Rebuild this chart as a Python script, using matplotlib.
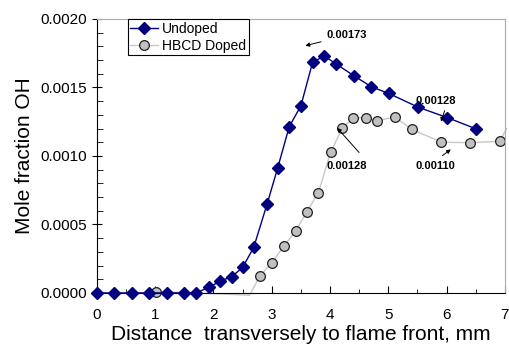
import numpy as np
import matplotlib.pyplot as plt
from matplotlib.ticker import MultipleLocator

plt.rcParams['font.family'] = ['Liberation Sans', 'DejaVu Sans']

# Undoped flame
x_undoped = [0.0, 0.3, 0.6, 0.9, 1.2, 1.5, 1.7, 1.92, 2.12, 2.31, 2.5, 2.69, 2.92,
             3.1, 3.3, 3.5, 3.7, 3.9, 4.1, 4.41, 4.71, 5.01, 5.51, 6.01, 6.51]
y_undoped = [0.0, 0.0, 0.0, 0.0, 0.0, 0.0, 0.0, 0.00004, 0.000088, 0.000117, 0.000186,
             0.000332, 0.000649, 0.00091, 0.001214, 0.001366, 0.001683, 0.00173,
             0.001673, 0.001585, 0.001505, 0.001456, 0.001356, 0.00128, 0.001197]

# HBCD doped flame (some points drawn as line only)
x_doped = [1.01, 2.0, 2.62, 2.8, 3.0, 3.21, 3.41, 3.6, 3.8, 4.01, 4.21, 4.4, 4.61,
           4.8, 5.11, 5.4, 5.91, 6.4, 6.91, 7.03]
y_doped = [0.00001, -0.000005, -0.000017, 0.000127, 0.000219, 0.000344, 0.000451,
           0.00059, 0.000732, 0.001027, 0.001203, 0.001278, 0.00128, 0.001256,
           0.001285, 0.001195, 0.0011, 0.001097, 0.001107, 0.0012]
doped_marked = [0] + list(range(3, 19))

fig = plt.figure(figsize=(5.1, 3.45), dpi=100)
ax = fig.add_axes([0.19, 0.151, 0.8, 0.794])

ax.plot(x_doped, y_doped, color='#c8c8c8', lw=1, marker='o', markersize=7,
        markerfacecolor='#c0c0c0', markeredgecolor='#202020', markeredgewidth=0.9,
        markevery=doped_marked, label='HBCD Doped', zorder=2, clip_on=False)
ax.plot(x_undoped, y_undoped, color='#000080', lw=1, marker='D', markersize=6,
        markerfacecolor='#000080', markeredgecolor='#000080', label='Undoped', zorder=3,
        clip_on=False)

ax.set_xlim(0, 7)
ax.set_ylim(0, 0.002)
ax.xaxis.set_major_locator(MultipleLocator(1))
ax.xaxis.set_minor_locator(MultipleLocator(0.5))
ax.yaxis.set_major_locator(MultipleLocator(0.0005))
ax.yaxis.set_minor_locator(MultipleLocator(0.0001))
ax.yaxis.set_major_formatter(plt.FormatStrFormatter('%.4f'))
ax.tick_params(axis='x', which='major', direction='in', length=5, labelsize=11, pad=11)
ax.tick_params(axis='x', which='minor', direction='in', length=3)
ax.tick_params(axis='y', which='major', direction='inout', length=7, labelsize=11)
ax.tick_params(axis='y', which='minor', direction='in', length=4)
for s in ['top', 'right']:
    ax.spines[s].set_color('#aaaaaa')

ax.set_xlabel('Distance  transversely to flame front, mm', fontsize=15, labelpad=2)
ax.set_ylabel('Mole fraction OH', fontsize=15, labelpad=5)

h, l = ax.get_legend_handles_labels()
leg = ax.legend(h[::-1], l[::-1], loc='upper left', bbox_to_anchor=(0.075, 1.0),
                fontsize=10, fancybox=False, edgecolor='black', framealpha=1,
                borderaxespad=0, handlelength=2, handletextpad=0.3,
                borderpad=0.2, labelspacing=0.2)
leg.get_frame().set_linewidth(0.8)

arrow = dict(arrowstyle='-|>', color='black', lw=0.7, mutation_scale=6)
tkw = dict(fontsize=8, fontweight='bold', va='center')
ax.annotate('0.00173', xy=(3.53, 0.0018), xytext=(3.94, 0.00188), arrowprops=arrow, **tkw)
ax.text(5.47, 0.0014, '0.00128', **tkw)
ax.annotate('', xy=(5.89, 0.00123), xytext=(5.98, 0.00135), arrowprops=arrow)
ax.text(3.94, 0.00093, '0.00128', **tkw)
ax.annotate('', xy=(4.09, 0.00122), xytext=(4.53, 0.00101), arrowprops=arrow)
ax.text(5.47, 0.00093, '0.00110', **tkw)
ax.annotate('', xy=(6.11, 0.00106), xytext=(5.89, 0.00099), arrowprops=arrow)

fig.savefig('out.png', dpi=100)
